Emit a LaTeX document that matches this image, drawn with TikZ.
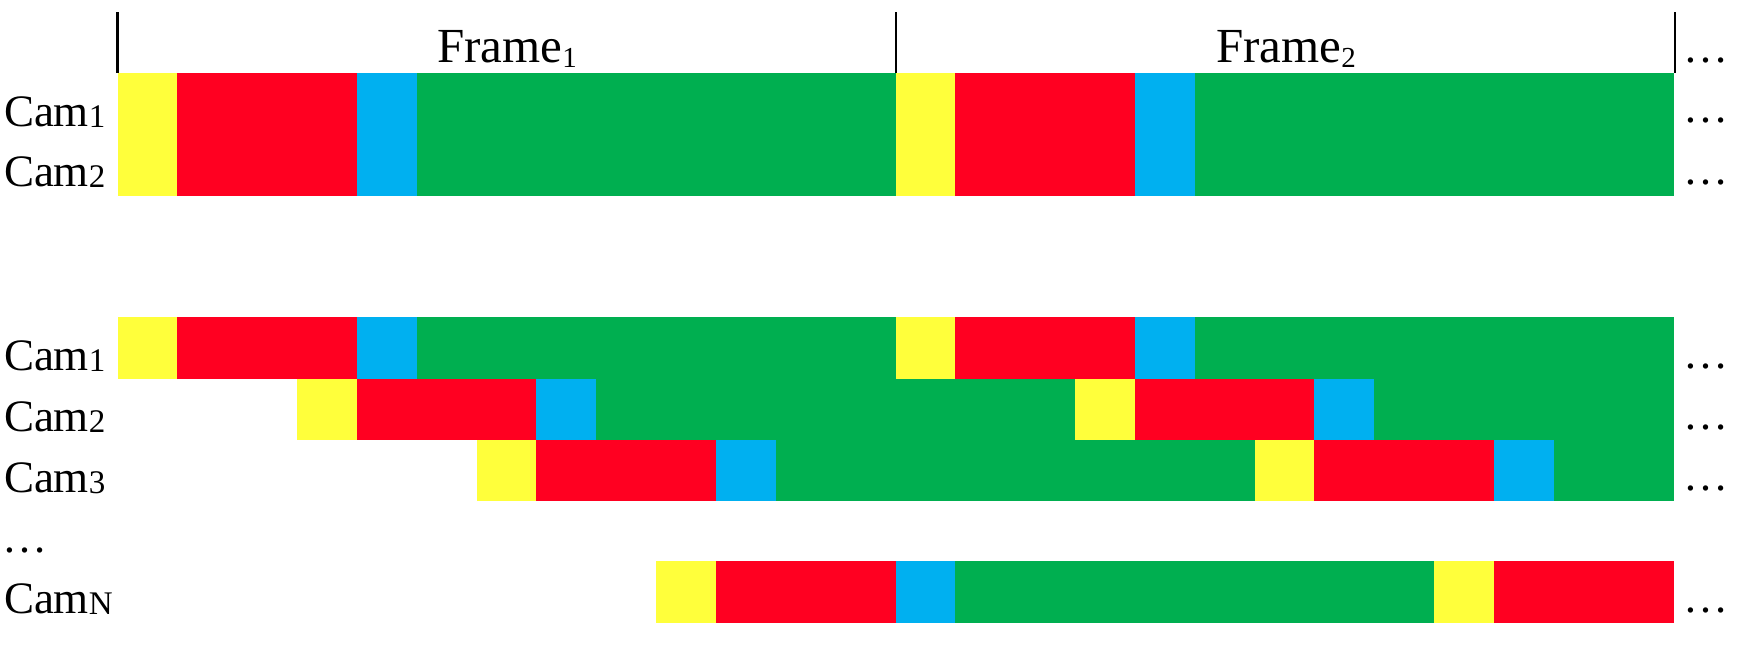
\documentclass[tikz,border=0pt]{standalone}
\usepackage{fontspec}
\setmainfont{Liberation Serif}
\definecolor{cy}{HTML}{FFFF3B}
\definecolor{cr}{HTML}{FF0021}
\definecolor{cb}{HTML}{00B0F0}
\definecolor{cg}{HTML}{00AF50}
\newcommand\camsub[1]{\raisebox{-0.6pt}{\fontsize{16.5}{16.5}\selectfont #1}}
\newcommand\frsub[1]{\raisebox{-2.5pt}{\fontsize{14.5}{14.5}\selectfont #1}}
\newcommand\segm[5]{\fill[#5] ({117.5+#1*59.846},#3) rectangle ({117.5+#2*59.846},#4);}
\tikzset{
  lbl/.style={anchor=base west, inner sep=0pt, outer sep=0pt, font=\fontsize{22.5}{22.5}\selectfont},
  frlbl/.style={anchor=base, inner sep=0pt, outer sep=0pt, font=\fontsize{24.5}{24.5}\selectfont},
  tick/.style={line width=1.3pt, black}
}
\begin{document}
\begin{tikzpicture}[x=0.5pt,y=-0.5pt]
\useasboundingbox (0,0) rectangle (1738,644);
% top section
\foreach \a/\b/\c in {0/1/cy,1/4/cr,4/5/cb,5/13/cg,13/14/cy,14/17/cr,17/18/cb,18/26/cg}{\segm{\a}{\b}{73}{196}{\c}}
% bottom: Cam1
\foreach \a/\b/\c in {0/1/cy,1/4/cr,4/5/cb,5/13/cg,13/14/cy,14/17/cr,17/18/cb,18/26/cg}{\segm{\a}{\b}{317}{378.5}{\c}}
% Cam2
\foreach \a/\b/\c in {3/4/cy,4/7/cr,7/8/cb,8/16/cg,16/17/cy,17/20/cr,20/21/cb,21/26/cg}{\segm{\a}{\b}{378.5}{439.5}{\c}}
% Cam3
\foreach \a/\b/\c in {6/7/cy,7/10/cr,10/11/cb,11/19/cg,19/20/cy,20/23/cr,23/24/cb,24/26/cg}{\segm{\a}{\b}{439.5}{501}{\c}}
% CamN
\foreach \a/\b/\c in {9/10/cy,10/13/cr,13/14/cb,14/22/cg,22/23/cy,23/26/cr}{\segm{\a}{\b}{561}{623}{\c}}
% frame ticks
\coordinate (t0a) at (117.5,12); \coordinate (t0b) at (117.5,73);
\coordinate (t1a) at (896,12);   \coordinate (t1b) at (896,73);
\coordinate (t2a) at (1675,12);  \coordinate (t2b) at (1675,73);
\draw[tick] (t0a) -- (t0b);
\draw[tick] (t1a) -- (t1b);
\draw[tick] (t2a) -- (t2b);
\node[frlbl] (f1) at (507,62) {Frame\frsub{1}};
\node[frlbl] (f2) at (1286,62) {Frame\frsub{2}};
% labels
\node[lbl] (c1t) at (4,126) {Cam\camsub{1}};
\node[lbl] (c2t) at (4,186) {Cam\camsub{2}};
\node[lbl] (c1b) at (4,370) {Cam\camsub{1}};
\node[lbl] (c2b) at (4,431) {Cam\camsub{2}};
\node[lbl] (c3b) at (4,492) {Cam\camsub{3}};
\node[lbl] (cdots) at (3,552) {…};
\node[lbl] (cNb) at (4,613) {Cam\camsub{N}};
% right dots
\foreach \y/\n in {62/d1,122/d2,184/d3,368/d4,429/d5,490/d6,612/d7}{\node[lbl] (\n) at (1683,\y) {…};}
\end{tikzpicture}
\end{document}
